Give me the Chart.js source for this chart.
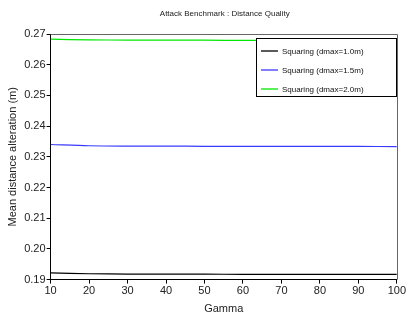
<!DOCTYPE html>
<html>
<head>
<meta charset="utf-8">
<script src="https://cdn.jsdelivr.net/npm/chart.js@4/dist/chart.umd.min.js"></script>
<style>
  html, body { margin: 0; padding: 0; background: #fff; }
  #wrap { width: 407px; height: 318px; }
</style>
</head>
<body>
<div id="wrap"><canvas id="myChart" width="407" height="318"></canvas></div>
<script>
// data
const gamma = [10, 20, 30, 40, 50, 60, 70, 80, 90, 100];
const dmax10 = [0.1922, 0.1919, 0.1918, 0.1918, 0.1918, 0.1917, 0.1917, 0.1917, 0.1917, 0.1917];
const dmax15 = [0.2340, 0.2336, 0.2335, 0.2335, 0.2334, 0.2334, 0.2334, 0.2334, 0.2334, 0.2333];
const dmax20 = [0.2683, 0.2681, 0.2680, 0.2680, 0.2680, 0.2679, 0.2679, 0.2679, 0.2679, 0.2679];
const seriesNames = ["Squaring (dmax=1.0m)", "Squaring (dmax=1.5m)", "Squaring (dmax=2.0m)"];
const seriesColors = ["#000000", "#3a3aff", "#00e800"];
const chartTitle = "Attack Benchmark : Distance Quality";

function toPoints(ys) {
  return gamma.map(function (g, i) { return { x: g, y: ys[i] }; });
}

const fontName = "'Liberation Sans', Arial, sans-serif";

// title over the plot, frame round the plot, boxed legend
const framePlugin = {
  id: "frame",
  afterDraw: function (chart) {
    const ctx = chart.ctx;
    const a = chart.chartArea;
    ctx.save();
    // title
    ctx.fillStyle = "#222";
    ctx.font = "8px " + fontName;
    ctx.textAlign = "center";
    ctx.textBaseline = "middle";
    ctx.fillText(chartTitle, (a.left + a.right) / 2 + 1, 14);
    // top and right edges
    ctx.strokeStyle = "#666";
    ctx.lineWidth = 1;
    ctx.beginPath();
    ctx.moveTo(a.left, Math.round(a.top) + 0.5);
    ctx.lineTo(Math.round(a.right) + 0.5, Math.round(a.top) + 0.5);
    ctx.lineTo(Math.round(a.right) + 0.5, a.bottom);
    ctx.stroke();
    // legend
    const bx = Math.round(a.right) - 141, by = Math.round(a.top) + 4;
    ctx.fillStyle = "#fff";
    ctx.fillRect(bx, by, 140, 58);
    ctx.strokeStyle = "#000";
    ctx.strokeRect(bx + 0.5, by + 0.5, 140, 58);
    ctx.textAlign = "left";
    chart.data.datasets.forEach(function (ds, i) {
      const yy = by + 13 + 19 * i;
      ctx.strokeStyle = ds.borderColor;
      ctx.lineWidth = 1.3;
      ctx.beginPath();
      ctx.moveTo(bx + 5, yy);
      ctx.lineTo(bx + 22, yy);
      ctx.stroke();
      ctx.fillStyle = "#111";
      ctx.fillText(ds.label, bx + 26, yy + 1);
    });
    ctx.restore();
  }
};

const config = {
  type: "line",
  data: {
    datasets: [
      { label: seriesNames[0], data: toPoints(dmax10), borderColor: seriesColors[0], backgroundColor: seriesColors[0] },
      { label: seriesNames[1], data: toPoints(dmax15), borderColor: seriesColors[1], backgroundColor: seriesColors[1] },
      { label: seriesNames[2], data: toPoints(dmax20), borderColor: seriesColors[2], backgroundColor: seriesColors[2] }
    ]
  },
  options: {
    responsive: false,
    animation: false,
    layout: { padding: { left: 6, right: 10, top: 34, bottom: 2 } },
    elements: {
      line: { borderWidth: 1.2, tension: 0.3 },
      point: { radius: 0 }
    },
    plugins: {
      legend: { display: false },
      tooltip: { enabled: false }
    },
    scales: {
      x: {
        type: "linear",
        min: 10,
        max: 100,
        ticks: {
          stepSize: 5,
          color: "#222",
          font: { family: fontName, size: 11 },
          padding: 1,
          maxRotation: 0,
          callback: function (v) { return v % 10 === 0 ? v : ""; }
        },
        grid: { drawOnChartArea: false, tickLength: 4, color: "#000" },
        border: { color: "#000", width: 1 },
        title: {
          display: true,
          text: "Gamma",
          color: "#222",
          font: { family: fontName, size: 11 },
          padding: { top: 4, bottom: 0 }
        }
      },
      y: {
        min: 0.19,
        max: 0.27,
        ticks: {
          stepSize: 0.005,
          color: "#222",
          font: { family: fontName, size: 11 },
          padding: 1,
          callback: function (v) {
            const r = Math.round(v * 1000);
            return r % 10 === 0 ? (r / 1000).toFixed(2) : "";
          }
        },
        grid: { drawOnChartArea: false, tickLength: 4, color: "#000" },
        border: { color: "#000", width: 1 },
        title: {
          display: true,
          text: "Mean distance alteration (m)",
          color: "#222",
          font: { family: fontName, size: 11 },
          padding: { top: 0, bottom: 4 }
        }
      }
    }
  },
  plugins: [framePlugin]
};

const myChart = new Chart(document.getElementById("myChart"), config);
</script>
</body>
</html>
